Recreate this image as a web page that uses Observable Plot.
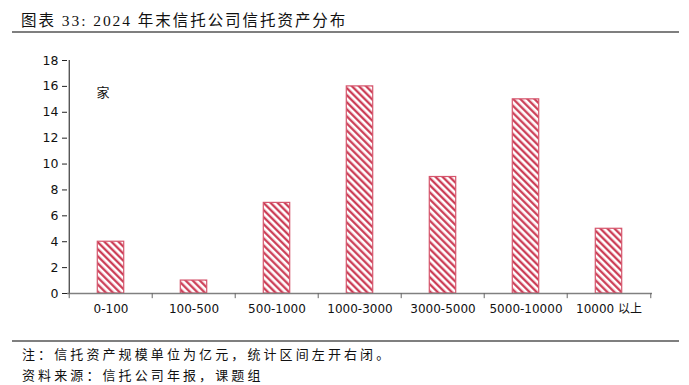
<!DOCTYPE html>
<html><head><meta charset="utf-8">
<script src="https://cdn.jsdelivr.net/npm/d3@7"></script>
<script src="https://cdn.jsdelivr.net/npm/@observablehq/plot@0.6"></script>
<style>
body{margin:0;background:#fff;width:689px;height:385px;position:relative;overflow:hidden;font-family:"Noto Sans CJK SC",sans-serif;}
#title{position:absolute;left:21px;top:8px;font-size:15.5px;letter-spacing:1.95px;color:#111;font-family:"Liberation Serif","Noto Sans CJK SC",serif;}
.line{position:absolute;left:12px;width:667px;height:2px;background:#7f7f7f;}
.note{position:absolute;left:22px;font-size:13px;letter-spacing:3.1px;color:#111;}
#chart{position:absolute;left:0;top:40px;}
</style></head>
<body>
<div id="title">图表 33: 2024 年末信托公司信托资产分布</div>
<div class="line" style="top:31px"></div>
<div id="chart"></div>
<div class="line" style="top:340px"></div>
<div class="note" style="top:344px">注：信托资产规模单位为亿元，统计区间左开右闭。</div>
<div class="note" style="top:365px">资料来源：信托公司年报，课题组</div>
<script>
const categories = ["0-100","100-500","500-1000","1000-3000","3000-5000","5000-10000","10000 以上"];
const counts = [4, 1, 7, 16, 9, 15, 5];
const yTicks = [0,2,4,6,8,10,12,14,16,18];
const unitLabel = "家";

const data = categories.map((c,i)=>({cat:c, value:counts[i]}));
const W = 689, ML = 67, MR = 37;
const bw = (W - ML - MR) / categories.length;
const barW = 27;
const inset = (bw - barW) / 2;

const plot = Plot.plot({
  width: W, height: 283,
  marginLeft: ML, marginRight: MR, marginTop: 20, marginBottom: 30,
  style: {fontFamily: "'DejaVu Sans', 'Noto Sans CJK SC', sans-serif", fontSize: "12px", color: "#111", background: "white"},
  x: {domain: categories, padding: 0, label: null},
  y: {domain: [0, 18], label: null},
  marks: [
    () => {
      const svg = d3.create("svg:defs");
      const p = svg.append("pattern").attr("id","hatch").attr("patternUnits","userSpaceOnUse")
        .attr("width",5).attr("height",5).attr("patternTransform","rotate(-45)");
      p.append("rect").attr("width",5).attr("height",5).attr("fill","white");
      p.append("line").attr("x1",1.25).attr("x2",1.25).attr("y1",0).attr("y2",5)
        .attr("stroke","#c9334d").attr("stroke-width",2.2);
      return svg.node();
    },
    Plot.barY(data, {x:"cat", y:"value", fill:"url(#hatch)", stroke:"#d6566d", strokeWidth:1.2, insetLeft: inset, insetRight: inset}),
    Plot.axisY({ticks: yTicks, tickSize: 5, tickPadding: 4, fontSize: 12.5, label: null, stroke: "#222"}),
    Plot.ruleX([0], {x: () => categories[0], dx: -bw/2, y1: 0, y2: 18, stroke: "#111"}),
    Plot.axisX({tickSize: 0, tickPadding: 11, fontSize: 12, label: null}),
    Plot.ruleY([0], {stroke: "#808080", strokeWidth: 1.3}),
    Plot.ruleX(categories, {x: d => d, dx: -bw/2, y1: 0, y2: -0.4, stroke: "#666"}),
    Plot.ruleX([categories[categories.length-1]], {x: d => d, dx: bw/2, y1: 0, y2: -0.4, stroke: "#666"}),
    Plot.text([unitLabel], {x: () => categories[0], y: 15.5, text: d => d, fontSize: 13, dx: -8})
  ]
});
document.getElementById("chart").appendChild(plot);
</script>
</body></html>
